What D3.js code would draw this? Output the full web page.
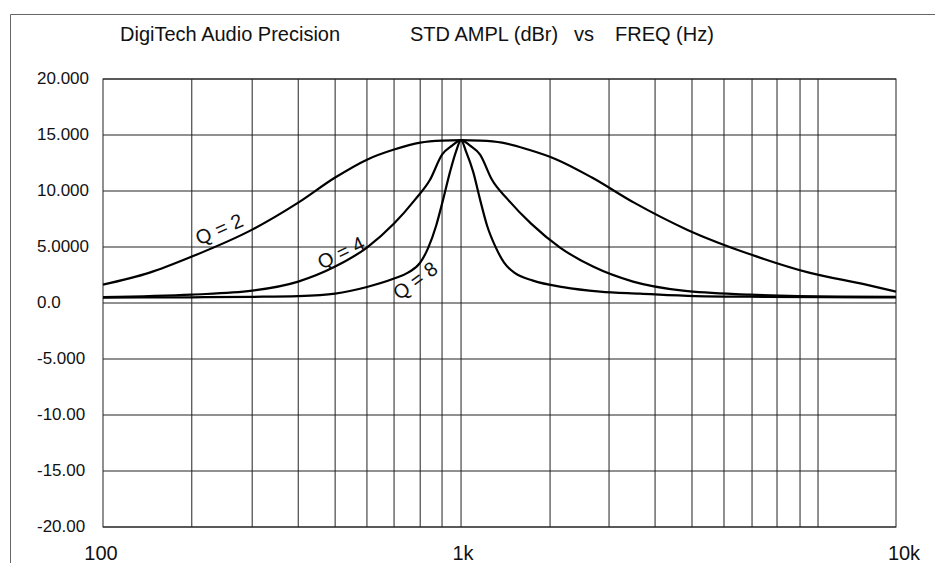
<!DOCTYPE html>
<html>
<head>
<meta charset="utf-8">
<script src="https://cdn.jsdelivr.net/npm/d3@7"></script>
<style>
	body { margin: 0; background: #fff; }
	svg { display: block; font-family: 'Liberation Sans', Arial, sans-serif; }
</style>
</head>
<body>
<script>
// y axis
const yTicks = [20, 15, 10, 5, 0, -5, -10, -15, -20];
const yTickLabels = ['20.000', '15.000', '10.000', '5.0000', '0.0', '-5.000', '-10.00', '-15.00', '-20.00'];

// x axis (Hz)
const xTicks = [100, 1000, 10000];
const xTickLabels = ['100', '1k', '10k'];
// vertical grid lines as they sit in the picture
const xGrid = [177, 261, 351, 445, 546, 650, 769, 885, 1000, 1602, 2189, 2793, 3396, 4023, 4667, 5327, 6017, 6618];

// curves: [freq Hz, dBr]
const q2 = [
	[100, 1.64], [135, 2.71], [177, 4.14], [261, 6.55], [351, 8.96], [445, 11.2], [546, 12.8], [650, 13.7],
	[769, 14.32], [885, 14.5], [1000, 14.54], [1106, 14.5], [1242, 14.32], [1426, 13.7], [1662, 12.8],
	[2000, 11.2], [2499, 8.96], [3307, 6.55], [4792, 4.14], [6310, 2.71], [8532, 1.64], [10000, 1.02],
];
const q4 = [
	[100, 0.53], [177, 0.75], [261, 1.1], [351, 1.91], [445, 3.25], [546, 4.95], [650, 7.09], [744, 9.23],
	[819, 11.0], [885, 13.25], [944, 14.05], [1000, 14.54], [1049, 14.05], [1106, 13.25], [1178, 11.0],
	[1282, 9.23], [1449, 7.09], [1689, 4.95], [2011, 3.25], [2486, 1.91], [3238, 1.1], [4617, 0.75],
	[7436, 0.57], [10000, 0.55],
];
const q8 = [
	[100, 0.48], [177, 0.51], [261, 0.55], [351, 0.62], [445, 0.84], [546, 1.43], [650, 2.18], [711, 2.71],
	[769, 3.6], [809, 4.9], [852, 6.9], [891, 9.23], [932, 11.73], [968, 13.52], [1000, 14.54], [1027, 13.52],
	[1066, 11.73], [1106, 9.23], [1148, 6.9], [1204, 4.9], [1256, 3.6], [1331, 2.66], [1464, 2.0],
	[1716, 1.42], [2087, 1.02], [2579, 0.84], [3451, 0.62], [5000, 0.55], [8532, 0.51], [10000, 0.5],
];
const curveNames = ['Q = 2', 'Q = 4', 'Q = 8'];
// where each name sits on the chart: [freq, dBr, angle]
const curveLabelAt = [[211, 6.6, -24], [462, 4.5, -26], [744, 2.0, -36]];

const titleParts = ['DigiTech Audio Precision', 'STD AMPL (dBr)', 'vs', 'FREQ (Hz)'];

const width = 935;
const height = 563;
const margin = { top: 79, right: 39, bottom: 36, left: 103 };
const plotW = width - margin.left - margin.right;

const svg = d3.select('body').append('svg').attr('width', width).attr('height', height);

// x is log, but the 1k decade line is left of centre in this plot
const x = d3
	.scaleLog()
	.domain([100, 1000, 10000])
	.range([margin.left, margin.left + plotW * 0.4515, width - margin.right]);
const y = d3
	.scaleLinear()
	.domain([-20, 20])
	.range([height - margin.bottom, margin.top]);

// outer frame
svg.append('path')
	.attr('d', `M10.5,${height} V14.5 H${width}`)
	.attr('fill', 'none')
	.attr('stroke', '#666')
	.attr('stroke-width', 1);

// title, spaced out like the original
const titleX = [120, 410, 574, 615];
svg.append('g')
	.selectAll('text')
	.data(titleParts)
	.join('text')
	.attr('x', (d, i) => titleX[i])
	.attr('y', 41)
	.attr('font-size', 20)
	.attr('fill', '#111')
	.text((d) => d);

// grid
const grid = svg.append('g').attr('stroke', '#222').attr('stroke-width', 1);
grid.selectAll('line.h')
	.data(yTicks)
	.join('line')
	.attr('class', 'h')
	.attr('x1', margin.left)
	.attr('x2', width - margin.right)
	.attr('y1', (d) => y(d))
	.attr('y2', (d) => y(d));
grid.selectAll('line.v')
	.data(xGrid)
	.join('line')
	.attr('class', 'v')
	.attr('x1', (d) => x(d))
	.attr('x2', (d) => x(d))
	.attr('y1', y(20))
	.attr('y2', y(-20));
grid.append('rect')
	.attr('x', margin.left)
	.attr('y', margin.top)
	.attr('width', plotW)
	.attr('height', y(-20) - y(20))
	.attr('fill', 'none');

// y labels (left aligned in the original)
svg.append('g')
	.selectAll('text')
	.data(yTicks)
	.join('text')
	.attr('x', 37)
	.attr('y', (d) => y(d))
	.attr('dy', '0.3em')
	.attr('font-size', 17)
	.attr('fill', '#111')
	.text((d, i) => yTickLabels[i]);

// x labels
svg.append('g')
	.selectAll('text')
	.data(xTicks)
	.join('text')
	.attr('x', (d) => x(d))
	.attr('dx', (d, i) => [-2, 2, 8][i])
	.attr('y', height - 3)
	.attr('text-anchor', 'middle')
	.attr('font-size', 20)
	.attr('fill', '#111')
	.text((d, i) => xTickLabels[i]);

// curves
const line = d3
	.line()
	.x((d) => x(d[0]))
	.y((d) => y(d[1]))
	.curve(d3.curveMonotoneX);

svg.append('g')
	.selectAll('path')
	.data([q2, q4, q8])
	.join('path')
	.attr('d', line)
	.attr('fill', 'none')
	.attr('stroke', '#000')
	.attr('stroke-width', 2.2);

svg.append('g')
	.selectAll('text')
	.data(curveLabelAt)
	.join('text')
	.attr('transform', (d) => `translate(${x(d[0])},${y(d[1])}) rotate(${d[2]})`)
	.attr('text-anchor', 'middle')
	.attr('dy', '0.35em')
	.attr('font-size', 20)
	.attr('fill', '#111')
	.text((d, i) => curveNames[i]);
</script>
</body>
</html>
